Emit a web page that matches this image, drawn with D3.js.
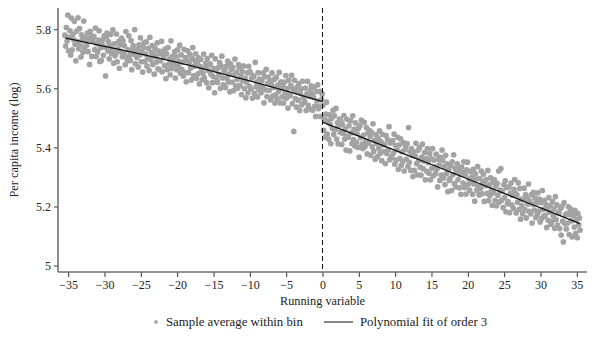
<!DOCTYPE html>
<html>
<head>
<meta charset="utf-8">
<script src="https://cdn.jsdelivr.net/npm/d3@7"></script>
<style>
  body { margin: 0; background: #fff; }
  text { font-family: "Liberation Serif", "Times New Roman", serif; fill: #222; }
</style>
</head>
<body>
<div id="rdplot"></div>
<script>
// bin averages, left of cutoff: bins of width 0.1 starting at -35.45
var leftBinStart = -35.45, rightBinStart = 0.05, binWidth = 0.1;
var leftY = [
  5.780,5.743,5.806,5.760,5.848,5.727,5.773,5.795,5.713,5.838,
  5.730,5.783,5.765,5.827,5.749,5.693,5.794,5.758,5.839,5.734,
  5.802,5.747,5.706,5.781,5.766,5.722,5.828,5.737,5.771,5.755,
  5.746,5.787,5.724,5.767,5.681,5.793,5.778,5.708,5.761,5.771,
  5.776,5.731,5.804,5.708,5.751,5.724,5.763,5.795,5.691,5.737,
  5.694,5.749,5.764,5.712,5.778,5.740,5.642,5.775,5.787,5.727,
  5.758,5.700,5.746,5.783,5.718,5.733,5.798,5.685,5.751,5.710,
  5.719,5.784,5.690,5.734,5.759,5.668,5.748,5.724,5.770,5.707,
  5.761,5.717,5.744,5.680,5.792,5.705,5.693,5.730,5.778,5.711,
  5.694,5.762,5.663,5.733,5.745,5.716,5.799,5.683,5.728,5.704,
  5.732,5.672,5.747,5.713,5.771,5.690,5.725,5.655,5.738,5.754,
  5.691,5.716,5.757,5.675,5.702,5.735,5.660,5.773,5.697,5.721,
  5.745,5.681,5.718,5.648,5.735,5.707,5.689,5.754,5.666,5.726,
  5.663,5.717,5.693,5.759,5.656,5.726,5.707,5.677,5.733,5.633,
  5.717,5.663,5.738,5.682,5.699,5.646,5.761,5.667,5.708,5.692,
  5.680,5.724,5.635,5.707,5.663,5.730,5.674,5.691,5.746,5.651,
  5.713,5.664,5.689,5.642,5.732,5.653,5.704,5.622,5.694,5.727,
  5.653,5.687,5.715,5.669,5.628,5.702,5.738,5.642,5.675,5.693,
  5.717,5.634,5.685,5.649,5.703,5.615,5.674,5.698,5.658,5.629,
  5.650,5.716,5.635,5.672,5.685,5.619,5.701,5.661,5.602,5.680,
  5.683,5.648,5.712,5.619,5.640,5.668,5.585,5.700,5.663,5.632,
  5.620,5.670,5.647,5.687,5.600,5.675,5.709,5.635,5.612,5.660,
  5.659,5.603,5.674,5.634,5.692,5.621,5.648,5.588,5.683,5.665,
  5.621,5.671,5.592,5.646,5.699,5.608,5.654,5.630,5.601,5.680,
  5.670,5.610,5.644,5.579,5.657,5.626,5.676,5.599,5.634,5.568,
  5.620,5.652,5.585,5.674,5.607,5.656,5.597,5.635,5.567,5.643,
  5.640,5.583,5.688,5.605,5.622,5.571,5.653,5.597,5.631,5.611,
  5.585,5.626,5.603,5.652,5.551,5.639,5.595,5.664,5.572,5.617,
  5.638,5.593,5.626,5.561,5.614,5.652,5.574,5.603,5.630,5.550,
  5.578,5.638,5.565,5.611,5.589,5.654,5.551,5.622,5.601,5.571,
  5.608,5.550,5.621,5.585,5.643,5.567,5.599,5.533,5.627,5.578,
  5.575,5.609,5.644,5.548,5.598,5.454,5.627,5.565,5.589,5.536,
  5.605,5.560,5.616,5.525,5.583,5.598,5.544,5.624,5.570,5.553,
  5.556,5.601,5.525,5.581,5.624,5.542,5.573,5.530,5.592,5.608,
  5.581,5.526,5.570,5.604,5.540,5.505,5.589,5.557,5.612,5.531,
  5.539,5.590,5.505,5.563,5.581
];
var rightY = [
  5.543,5.458,5.495,5.435,5.513,
  5.553,5.445,5.489,5.428,5.510,5.479,5.413,5.498,5.464,5.525,
  5.444,5.507,5.461,5.532,5.428,5.483,5.412,5.475,5.496,5.451,
  5.489,5.410,5.477,5.447,5.508,5.428,5.463,5.391,5.495,5.438,
  5.434,5.473,5.388,5.490,5.449,5.413,5.507,5.426,5.461,5.405,
  5.483,5.418,5.447,5.400,5.465,5.367,5.473,5.433,5.492,5.411,
  5.396,5.442,5.485,5.403,5.420,5.467,5.378,5.449,5.414,5.458,
  5.437,5.373,5.451,5.402,5.480,5.387,5.423,5.360,5.443,5.414,
  5.369,5.431,5.397,5.456,5.380,5.420,5.355,5.444,5.409,5.386,
  5.409,5.345,5.440,5.379,5.426,5.392,5.470,5.358,5.415,5.368,
  5.364,5.423,5.380,5.445,5.343,5.407,5.357,5.392,5.434,5.326,
  5.408,5.362,5.429,5.339,5.385,5.353,5.416,5.320,5.392,5.401,
  5.360,5.413,5.336,5.467,5.349,5.385,5.322,5.396,5.372,5.301,
  5.384,5.322,5.371,5.414,5.345,5.307,5.390,5.356,5.399,5.333,
  5.306,5.367,5.411,5.328,5.354,5.383,5.290,5.362,5.319,5.396,
  5.348,5.312,5.379,5.290,5.362,5.329,5.396,5.304,5.357,5.334,
  5.311,5.377,5.327,5.266,5.359,5.340,5.288,5.366,5.306,5.391,
  5.356,5.296,5.335,5.274,5.373,5.311,5.344,5.250,5.324,5.288,
  5.295,5.338,5.254,5.351,5.308,5.375,5.277,5.329,5.266,5.319,
  5.344,5.290,5.325,5.263,5.307,5.241,5.333,5.315,5.279,5.351,
  5.264,5.307,5.242,5.324,5.350,5.274,5.293,5.255,5.318,5.283,
  5.299,5.241,5.326,5.276,5.218,5.310,5.293,5.255,5.335,5.267,
  5.239,5.294,5.261,5.320,5.243,5.279,5.309,5.217,5.287,5.270,
  5.291,5.244,5.322,5.220,5.273,5.237,5.297,5.255,5.204,5.282,
  5.246,5.291,5.221,5.269,5.202,5.278,5.238,5.320,5.215,5.255,
  5.328,5.221,5.252,5.196,5.274,5.230,5.287,5.182,5.264,5.209,
  5.216,5.266,5.179,5.245,5.279,5.205,5.238,5.194,5.258,5.291,
  5.244,5.178,5.239,5.214,5.280,5.190,5.261,5.157,5.225,5.203,
  5.175,5.223,5.262,5.189,5.240,5.161,5.228,5.208,5.276,5.183,
  5.218,5.175,5.240,5.144,5.207,5.248,5.188,5.229,5.162,5.212,
  5.172,5.246,5.184,5.225,5.147,5.213,5.159,5.254,5.190,5.167,
  5.221,5.170,5.207,5.129,5.192,5.153,5.230,5.181,5.203,5.140,
  5.149,5.216,5.168,5.191,5.126,5.233,5.156,5.205,5.137,5.179,
  5.177,5.125,5.192,5.103,5.200,5.150,5.080,5.213,5.142,5.172,
  5.124,5.177,5.144,5.199,5.105,5.172,5.191,5.151,5.097,5.184,
  5.170,5.130,5.187,5.109,5.155,5.094,5.176,5.138,5.161,5.120
];

// fitted polynomial
var fitLeftX  = [-35.4, -35, -30, -25, -20, -15, -10, -5, 0];
var fitLeftY  = [5.770, 5.768, 5.742, 5.716, 5.688, 5.657, 5.625, 5.591, 5.555];
var fitRightX = [0, 5, 10, 15, 20, 25, 30, 35, 35.4];
var fitRightY = [5.485, 5.438, 5.390, 5.342, 5.293, 5.244, 5.195, 5.146, 5.142];

var xTicks = [-35, -30, -25, -20, -15, -10, -5, 0, 5, 10, 15, 20, 25, 30, 35];
var yTicks = [5, 5.2, 5.4, 5.6, 5.8];
var cutoff = 0;

var W = 594, H = 343;
var margin = {top: 8, right: 7, bottom: 71, left: 58},
    width = W - margin.left - margin.right,
    height = H - margin.top - margin.bottom;

var x = d3.scaleLinear().domain([-36.4, 36.4]).range([0, width]);
var y = d3.scaleLinear().domain([4.978, 5.872]).range([height, 0]);

var svg = d3.select("#rdplot").append("svg")
    .attr("width", W)
    .attr("height", H)
    .append("g")
    .attr("transform", "translate(" + margin.left + "," + margin.top + ")");

var points = leftY.map(function(v, i) { return {x: leftBinStart + i * binWidth, y: v}; })
    .concat(rightY.map(function(v, i) { return {x: rightBinStart + i * binWidth, y: v}; }));

svg.append("g").selectAll("circle")
    .data(points)
    .enter().append("circle")
    .attr("cx", function(d) { return x(d.x); })
    .attr("cy", function(d) { return y(d.y); })
    .attr("r", 2.85)
    .style("fill", "#a3a3a3");

var line = d3.line()
    .x(function(d) { return x(d[0]); })
    .y(function(d) { return y(d[1]); })
    .curve(d3.curveMonotoneX);

[[fitLeftX, fitLeftY], [fitRightX, fitRightY]].forEach(function(s) {
    svg.append("path")
        .datum(d3.zip(s[0], s[1]))
        .attr("d", line)
        .style("fill", "none")
        .style("stroke", "#111")
        .style("stroke-width", 1.3);
});

svg.append("line")
    .attr("x1", x(cutoff)).attr("x2", x(cutoff))
    .attr("y1", 0).attr("y2", height)
    .style("stroke", "#111")
    .style("stroke-width", 1)
    .style("stroke-dasharray", "5,3");

var xAxis = d3.axisBottom(x).tickValues(xTicks).tickSize(5).tickPadding(3)
    .tickFormat(d3.format("d"));
var yAxis = d3.axisLeft(y).tickValues(yTicks).tickSize(4).tickPadding(3)
    .tickFormat(function(d) { return d === 5 ? "5" : d3.format(".1f")(d); });

var gx = svg.append("g")
    .attr("class", "x axis")
    .attr("transform", "translate(0," + height + ")")
    .call(xAxis);
var gy = svg.append("g")
    .attr("class", "y axis")
    .call(yAxis);

d3.selectAll(".axis .domain")
    .attr("d", null);
gx.append("line").attr("x1", 0).attr("x2", width).attr("y1", 0).attr("y2", 0)
    .style("stroke", "#707070").style("stroke-width", 1.6);
gy.append("line").attr("x1", 0).attr("x2", 0).attr("y1", 0).attr("y2", height)
    .style("stroke", "#707070").style("stroke-width", 1.6);

d3.selectAll(".axis .tick line")
    .style("stroke", "#333")
    .style("stroke-width", 1);
d3.selectAll(".axis text")
    .style("font-size", "12px")
    .style("font-family", "'Liberation Serif', serif")
    .style("fill", "#222");

svg.append("text")
    .attr("transform", "rotate(-90)")
    .attr("x", -height / 2)
    .attr("y", -40)
    .style("text-anchor", "middle")
    .style("font-size", "12.3px")
    .text("Per capita income (log)");

svg.append("text")
    .attr("x", width / 2)
    .attr("y", height + 33)
    .style("text-anchor", "middle")
    .style("font-size", "12.3px")
    .text("Running variable");

// legend
var legend = svg.append("g")
    .attr("transform", "translate(0," + (height + 50) + ")");
legend.append("circle")
    .attr("cx", 98).attr("cy", 0).attr("r", 2)
    .style("fill", "#aaa");
legend.append("text")
    .attr("x", 108).attr("y", 4)
    .style("font-size", "12.8px")
    .text("Sample average within bin");
legend.append("line")
    .attr("x1", 266).attr("x2", 295).attr("y1", 0).attr("y2", 0)
    .style("stroke", "#111").style("stroke-width", 1);
legend.append("text")
    .attr("x", 302).attr("y", 4)
    .style("font-size", "12.8px")
    .text("Polynomial fit of order 3");
</script>
</body>
</html>
